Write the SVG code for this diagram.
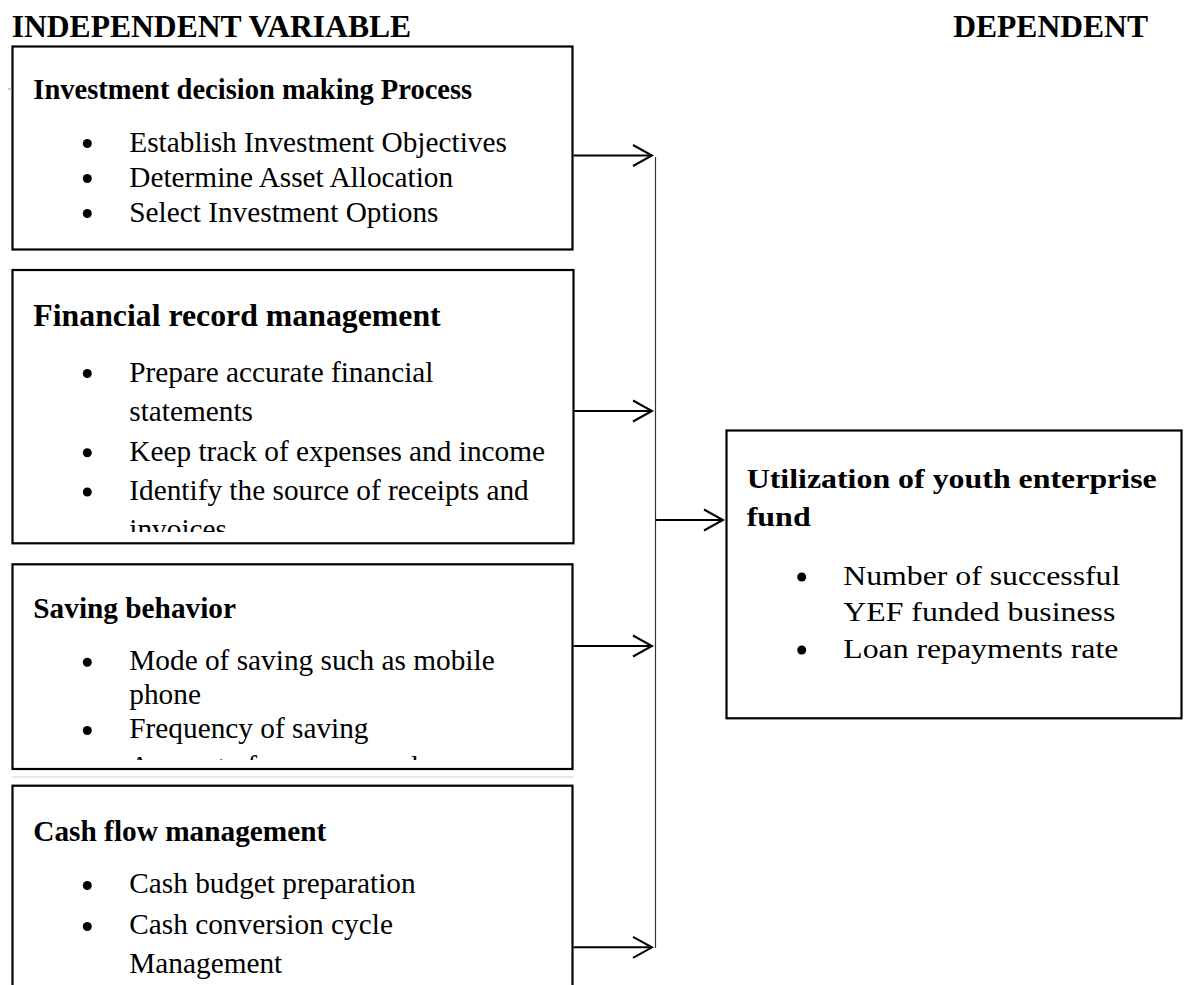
<svg xmlns="http://www.w3.org/2000/svg" width="1184" height="985" viewBox="0 0 1184 985">
<style>
.t{font-family:"Liberation Serif","Times New Roman",serif;fill:#000}
.title{font-weight:bold;font-size:31.6px}
.hb{font-weight:bold}
.it{font-size:29.3px}
.box{fill:none;stroke:#000;stroke-width:2.2}
.con{stroke:#000;stroke-width:2;fill:none}
.bul{fill:#000}
</style>
<defs>
<marker id="arr" markerUnits="userSpaceOnUse" markerWidth="24" markerHeight="26" refX="20" refY="12" orient="auto">
<path d="M1,1.5 L20,12 L1,22.5" fill="none" stroke="#000" stroke-width="2"/>
</marker>
<clipPath id="clip2"><rect x="14" y="272" width="556" height="260"/></clipPath>
<clipPath id="clip3"><rect x="14" y="566" width="556" height="194"/></clipPath>
</defs>
<rect width="1184" height="985" fill="#fff"/>

<g id="titles">
<text class="t title" x="11.7" y="36.7">INDEPENDENT VARIABLE</text>
<text class="t title" x="1148" y="36.7" text-anchor="end">DEPENDENT</text>
</g>

<g id="box1">
<rect class="box" x="12.5" y="46.5" width="560" height="203"/>
<line x1="8" y1="89" x2="12" y2="89" stroke="#999" stroke-width="1"/>
<text class="t hb" x="33.3" y="99.3" font-size="28.5">Investment decision making Process</text>
<circle class="bul" cx="87.3" cy="143.5" r="4.5"/>
<circle class="bul" cx="87.3" cy="178.5" r="4.5"/>
<circle class="bul" cx="87.3" cy="213.5" r="4.5"/>
<text class="t it" x="129.3" y="151.7">Establish Investment Objectives</text>
<text class="t it" x="129.3" y="186.7">Determine Asset Allocation</text>
<text class="t it" x="129.3" y="221.7">Select Investment Options</text>
</g>

<g id="box2">
<rect class="box" x="12.5" y="270" width="561" height="273.3"/>
<text class="t hb" x="33.3" y="326" font-size="31.8">Financial record management</text>
<circle class="bul" cx="87.3" cy="373.5" r="4.5"/>
<circle class="bul" cx="87.3" cy="452.7" r="4.5"/>
<circle class="bul" cx="87.3" cy="492" r="4.5"/>
<g clip-path="url(#clip2)">
<text class="t it" x="129.3" y="381.7">Prepare accurate financial</text>
<text class="t it" x="129.3" y="420.5">statements</text>
<text class="t it" x="129.3" y="460.7">Keep track of expenses and income</text>
<text class="t it" x="129.3" y="500">Identify the source of receipts and</text>
<text class="t it" x="129.3" y="539.3">invoices</text>
</g>
</g>

<g id="box3">
<rect class="box" x="12.5" y="564.3" width="560" height="204.7"/>
<text class="t hb" x="33.3" y="618.3" font-size="29.3">Saving behavior</text>
<circle class="bul" cx="87.3" cy="662.3" r="4.5"/>
<circle class="bul" cx="87.3" cy="730.5" r="4.5"/>
<g clip-path="url(#clip3)">
<text class="t it" x="129.3" y="670">Mode of saving such as mobile</text>
<text class="t it" x="129.3" y="704">phone</text>
<text class="t it" x="129.3" y="738.3">Frequency of saving</text>
<text class="t it" x="129.3" y="776">Amount of money saved</text>
</g>
</g>

<line x1="12" y1="777" x2="573" y2="777" stroke="#cfcfcf" stroke-width="1"/>

<g id="box4">
<rect class="box" x="12.5" y="785.7" width="560" height="240"/>
<text class="t hb" x="33.3" y="841" font-size="29.3">Cash flow management</text>
<circle class="bul" cx="87.3" cy="885.5" r="4.5"/>
<circle class="bul" cx="87.3" cy="926.5" r="4.5"/>
<text class="t it" x="129.3" y="893.3">Cash budget preparation</text>
<text class="t it" x="129.3" y="934.3">Cash conversion cycle</text>
<text class="t it" x="129.3" y="973.3">Management</text>
</g>

<g id="dependent">
<rect class="box" x="726.5" y="430.5" width="455" height="287.8"/>
<text class="t hb" x="746.7" y="488.3" font-size="28" textLength="410" lengthAdjust="spacingAndGlyphs">Utilization of youth enterprise</text>
<text class="t hb" x="746.7" y="526" font-size="28" textLength="64" lengthAdjust="spacingAndGlyphs">fund</text>
<circle class="bul" cx="801.7" cy="577" r="4.5"/>
<circle class="bul" cx="801.7" cy="650" r="4.5"/>
<text class="t" x="843.3" y="585" font-size="28" textLength="277" lengthAdjust="spacingAndGlyphs">Number of successful</text>
<text class="t" x="843.3" y="620.5" font-size="28" textLength="272" lengthAdjust="spacingAndGlyphs">YEF funded business</text>
<text class="t" x="843.3" y="658" font-size="28" textLength="275" lengthAdjust="spacingAndGlyphs">Loan repayments rate</text>
</g>

<g id="connectors">
<line class="con" x1="573.5" y1="155.5" x2="652" y2="155.5" marker-end="url(#arr)"/>
<line class="con" x1="574.5" y1="411" x2="652" y2="411" marker-end="url(#arr)"/>
<line class="con" x1="573.5" y1="646" x2="652" y2="646" marker-end="url(#arr)"/>
<line class="con" x1="573.5" y1="947.3" x2="652" y2="947.3" marker-end="url(#arr)"/>
<line x1="655.5" y1="157" x2="655.5" y2="948" stroke="#333" stroke-width="1.2"/>
<line class="con" x1="655.5" y1="520" x2="723" y2="520" marker-end="url(#arr)"/>
</g>
</svg>
